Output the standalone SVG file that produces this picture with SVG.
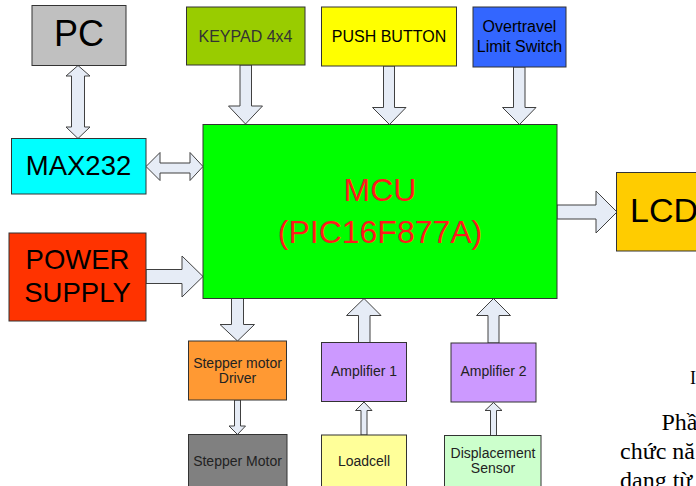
<svg xmlns="http://www.w3.org/2000/svg" width="696" height="486" viewBox="0 0 696 486">
<style>
.box{stroke:#333333;stroke-width:1}
.t{font-family:"Liberation Sans",Arial,sans-serif;text-anchor:middle;fill:#000}
.s{font-size:14px;fill:#222}
.red{fill:#ff1a1a}
.dk{fill:#333333}
.arr{fill:#e6ecf6;stroke:#404040;stroke-width:1;stroke-linejoin:miter}
.doc{font-family:"Liberation Serif","Times New Roman",serif;font-size:24px;fill:#000}
</style>
<rect width="696" height="486" fill="#ffffff"/>
<g id="connectors">
<path class="arr" d="M78,65.5 L90,76 L84.5,76 L84.5,127 L90,127 L78,138.5 L66,127 L71.5,127 L71.5,76 L66,76 Z"/>
<path class="arr" d="M146,166.5 L160,152.5 L160,163 L190,163 L190,152.5 L203,166.5 L190,180.5 L190,173 L160,173 L160,180.5 Z"/>
<path class="arr" d="M146,269.5 L182,269.5 L182,256 L203,276.5 L182,297 L182,283.5 L146,283.5 Z"/>
<path class="arr" d="M557,205 L596,205 L596,191 L617,212 L596,233 L596,219 L557,219 Z"/>
<path class="arr" d="M240,65 L251.5,65 L251.5,106 L262.5,106 L245.5,124 L228.5,106 L240,106 Z"/>
<path class="arr" d="M383.5,66 L394.5,66 L394.5,107.5 L406,107.5 L389.5,124.5 L372.5,107.5 L383.5,107.5 Z"/>
<path class="arr" d="M513.5,67 L525,67 L525,107.5 L536,107.5 L519.5,124.5 L502.5,107.5 L513.5,107.5 Z"/>
<path class="arr" d="M231.5,298.5 L243.5,298.5 L243.5,324.5 L254.5,324.5 L237.5,341 L220,324.5 L231.5,324.5 Z"/>
<path class="arr" d="M234.5,400 L240.5,400 L240.5,426 L245.5,426 L237.5,434.5 L229,426 L234.5,426 Z"/>
<path class="arr" d="M358.5,342.5 L370,342.5 L370,315.5 L381,315.5 L364,298.5 L346.5,315.5 L358.5,315.5 Z"/>
<path class="arr" d="M361,435 L367,435 L367,410.5 L372,410.5 L364,402 L355.5,410.5 L361,410.5 Z"/>
<path class="arr" d="M488,343 L499,343 L499,315.5 L510.5,315.5 L493.5,298.5 L476.5,315.5 L488,315.5 Z"/>
<path class="arr" d="M490.5,435.5 L496.5,435.5 L496.5,410.5 L502,410.5 L493.5,402.5 L485,410.5 L490.5,410.5 Z"/>
</g>
<g id="pc"><rect class="box" x="32" y="5.5" width="94" height="60" fill="#c0c0c0"/><text class="t" x="79" y="46" font-size="36">PC</text></g>
<g id="keypad"><rect class="box" x="186.5" y="7" width="118.5" height="58" fill="#99cc00"/><text class="t dk" x="245.5" y="42" font-size="16">KEYPAD 4x4</text></g>
<g id="pushbutton"><rect class="box" x="321.5" y="7" width="135" height="59" fill="#ffff00"/><text class="t" x="389" y="42" font-size="16">PUSH BUTTON</text></g>
<g id="overtravel"><rect class="box" x="473" y="7" width="93" height="60" fill="#3366ff"/><text class="t" x="519.5" y="32" font-size="16">Overtravel</text><text class="t" x="519.5" y="52" font-size="16">Limit Switch</text></g>
<g id="mcu"><rect class="box" x="203" y="124.5" width="354" height="174" fill="#00ff00"/><text class="t red" x="380" y="201" font-size="32">MCU</text><text class="t red" x="380" y="243" font-size="32">(PIC16F877A)</text></g>
<g id="max232"><rect class="box" x="11.5" y="138.5" width="134.5" height="55.5" fill="#00ffff"/><text class="t" x="78.5" y="175" font-size="27.5">MAX232</text></g>
<g id="power"><rect class="box" x="9" y="233" width="137" height="88" fill="#ff3300"/><text class="t" x="77.5" y="268.5" font-size="27.5">POWER</text><text class="t" x="77.5" y="301.5" font-size="27.5">SUPPLY</text></g>
<g id="lcd"><rect class="box" x="616.5" y="172.5" width="100" height="78.5" fill="#ffcc00"/><text class="t" x="630" y="222" font-size="34" style="text-anchor:start">LCD</text></g>
<g id="driver"><rect class="box" x="188.5" y="341" width="98" height="59" fill="#ff9933"/><text class="t s" x="237.5" y="367.5">Stepper motor</text><text class="t s" x="237.5" y="382.5">Driver</text></g>
<g id="amp1"><rect class="box" x="321.5" y="342.5" width="85" height="59" fill="#cc99ff"/><text class="t s" x="364" y="376">Amplifier 1</text></g>
<g id="amp2"><rect class="box" x="451" y="343" width="85" height="59" fill="#cc99ff"/><text class="t s" x="493.5" y="376">Amplifier 2</text></g>
<g id="motor"><rect class="box" x="188.5" y="434.5" width="98.5" height="60" fill="#808080"/><text class="t s" x="237.5" y="465.5">Stepper Motor</text></g>
<g id="loadcell"><rect class="box" x="321.5" y="435" width="85" height="60" fill="#ffff99"/><text class="t s" x="364" y="465.5">Loadcell</text></g>
<g id="displacement"><rect class="box" x="444.5" y="435.5" width="96.5" height="60" fill="#ccffcc"/><text class="t s" x="493" y="457.5">Displacement</text><text class="t s" x="493" y="473">Sensor</text></g>
<g id="doctext">
<text class="doc" x="690" y="384" style="font-size:18px">I</text>
<text class="doc" x="661.5" y="429.5">Phầ</text>
<text class="doc" x="620" y="458.5">chức nă</text>
<text class="doc" x="620" y="487.5">dang từ</text>
</g>
</svg>
